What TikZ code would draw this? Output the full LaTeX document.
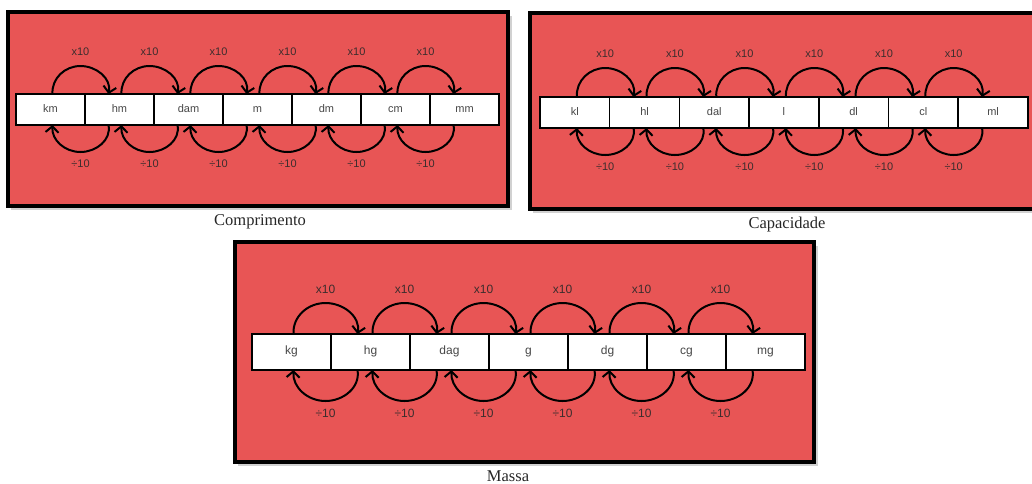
\documentclass[tikz,border=0pt]{standalone}
\usepackage{fontspec}
\setmainfont{Liberation Serif}
\newfontfamily\labelfont{Liberation Sans}
\usetikzlibrary{arrows.meta,calc}

\definecolor{panelred}{RGB}{232,85,85}
\definecolor{inkgray}{RGB}{60,45,45}

\tikzset{
  panel/.style={fill=panelred, draw=black, line width=3.5pt},
  panelshadow/.style={fill=black, opacity=0.18, draw=none},
  unitbox/.style={draw=black, line width=1.5pt, fill=white, inner sep=0pt, outer sep=0pt,
    text height=0.72em, text depth=0.2em,
    font=\labelfont\fontsize{11}{12}\selectfont, text=black!72},
  loop/.style={line width=2pt, -{Straight Barb[length=6pt,width=13pt,line width=2pt]}},
  factor/.style={font=\labelfont\fontsize{11}{12}\selectfont, text=inkgray},
  caption/.style={font=\fontsize{16.5}{18}\selectfont, text=black!85}
}

% one row of seven unit boxes with the x10 / ÷10 loops between neighbours
% #1 name prefix, #2 left x, #3 top y, #4 box width, #5 box height,
% #6 arc height, #7 end offset, #8 arc depth, #9 unit names
\newcommand\unitrow[9]{%
  \pgfmathsetmacro\halfspan{(#4-#7-2)/2}
  \foreach \unitname [count=\k] in {#9} {
    \node[unitbox, minimum width=#4pt, minimum height=#5pt, anchor=north west]
      (#1\k) at ({#2+(\k-1)*#4}, #3) {\unitname};
  }
  \foreach \k [evaluate=\k as \n using int(\k+1)] in {1,...,6} {
    % multiply: left box to right box, over the row
    \draw[loop] ($(#1\k.north)+(2,0)$)
      .. controls +(-1,{-0.56*#6}) and +({-0.56*\halfspan},0) ..
      ($(#1\k.north)+({2+\halfspan},{-#6})$) node[factor, yshift=14pt] {x10}
      .. controls +({0.56*\halfspan},0) and +(3,{-0.56*#6}) ..
      ($(#1\n.north)+(-#7,0)$);
    % divide: right box back to left box, under the row
    \draw[loop] ($(#1\n.south)+(-#7,0)$)
      .. controls +(3,{0.56*#8}) and +({0.56*\halfspan},0) ..
      ($(#1\k.south)+({2+\halfspan},{#8})$) node[factor, yshift=-12pt] {÷10}
      .. controls +({-0.56*\halfspan},0) and +(-1,{0.56*#8}) ..
      ($(#1\k.south)+(2,0)$);
  }
}

\begin{document}
\begin{tikzpicture}[x=1pt, y=-1pt]
  \useasboundingbox (0,0) rectangle (1032,483);

  % length
  \fill[panelshadow] (11,16) rectangle (512,210);
  \draw[panel] (8,12) rectangle (508,206);
  \unitrow{c}{16}{94}{69}{31}{28}{11}{27}{km,hm,dam,m,dm,cm,mm}
  \node[caption] (lcap) at (260,222) {Comprimento};

  % capacity
  \fill[panelshadow] (533,17) rectangle (1045,213);
  \draw[panel] (530,13) rectangle (1042,209);
  \unitrow{v}{540}{97}{69.7}{31}{29}{11}{27}{kl,hl,dal,l,dl,cl,ml}
  \node[caption] (vcap) at (787,225) {Capacidade};

  % mass
  \fill[panelshadow] (238,246) rectangle (818,466);
  \draw[panel] (235,242) rectangle (814,462);
  \begin{scope}[unitbox/.append style={font=\labelfont\fontsize{12}{13}\selectfont},
                factor/.append style={font=\labelfont\fontsize{12}{13}\selectfont}]
    \unitrow{g}{252}{334}{79}{36}{31}{13}{31}{kg,hg,dag,g,dg,cg,mg}
  \end{scope}
  \node[caption] (mcap) at (508,476) {Massa};
\end{tikzpicture}
\end{document}
